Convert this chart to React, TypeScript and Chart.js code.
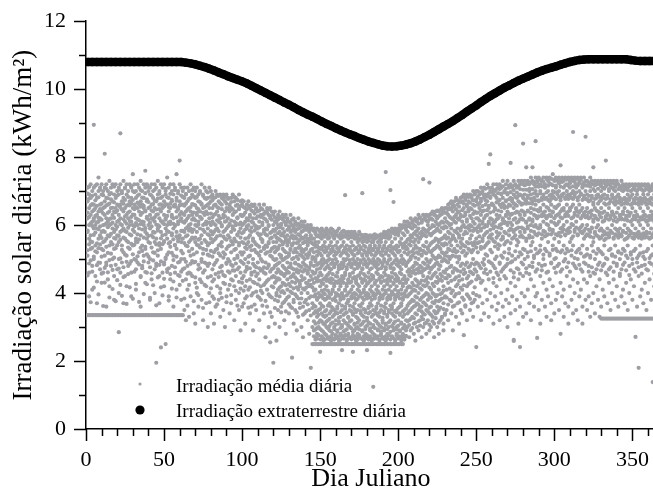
import { useEffect, useRef } from "react";
import { Chart, registerables } from "chart.js";

Chart.register(...registerables);

// Irradiação média diária: one row per Julian day (row 0 = day 1), values in kWh/m²
const dailyMean: number[][] = [
  // days 1-20
  [7.1,6.7,6.2,5.8,5.1,3.35],[6.9,6.5,6.0,5.6,4.6,3.9,3.35],[7.2,6.8,6.3,5.7,5.3,3.35],[7.0,6.4,6.1,5.5,4.8,4.1,3.35],
  [8.95,7.1,6.6,6.2,5.9,5.0,3.35],[6.9,6.5,6.0,5.4,4.5,3.35],[7.2,6.8,6.3,5.9,5.2,3.7,3.35],[7.4,7.0,6.4,6.1,5.6,4.9,3.35],
  [7.1,6.6,6.2,5.7,4.7,3.35],[7.2,6.9,6.4,5.8,5.3,4.3,3.35],[7.0,6.5,6.0,5.5,4.6,3.35],[8.1,7.1,6.7,6.3,5.8,5.1,3.35],
  [7.2,6.8,6.2,5.6,4.9,3.6,3.35],[7.0,6.6,6.1,5.7,4.4,3.35],[7.3,6.9,6.4,6.0,5.4,4.2,3.35],[7.1,6.5,6.2,5.5,4.8,3.35],
  [7.2,6.7,6.3,5.9,5.0,3.35],[6.9,6.4,5.8,5.3,4.5,3.8,3.35],[7.2,6.8,6.5,6.0,5.6,3.35],[7.0,6.6,6.1,5.7,4.7,3.35],
  // days 21-40
  [7.1,6.9,6.3,5.5,5.0,4.0,2.85,3.35],[8.7,7.2,6.6,6.2,5.8,4.6,3.35],[7.0,6.7,6.0,5.4,4.9,3.35],[7.3,6.8,6.4,5.9,5.2,3.7,3.35],
  [7.1,6.5,6.1,5.6,4.5,3.35],[7.2,6.9,6.3,5.8,5.1,4.2,3.35],[7.0,6.6,6.2,5.5,4.8,3.35],[7.2,6.7,6.4,6.0,5.3,3.35],
  [7.1,6.8,6.1,5.7,4.6,3.9,3.35],[7.5,7.0,6.5,6.0,5.4,3.35],[7.2,6.6,6.3,5.8,5.0,3.35],[7.0,6.8,6.2,5.6,4.7,4.1,3.35],
  [7.2,6.5,6.0,5.5,4.9,3.35],[7.1,6.9,6.4,5.9,5.2,3.35],[7.3,6.7,6.3,5.7,4.5,3.6,3.35],[7.0,6.6,6.1,5.4,4.8,3.35],
  [7.2,6.8,6.5,6.0,5.1,3.35],[7.6,7.1,6.4,5.8,5.3,4.3,3.35],[7.2,6.7,6.2,5.6,4.6,3.35],[7.0,6.5,6.0,5.5,4.9,3.35],
  // days 41-61
  [7.1,6.9,6.3,5.9,5.0,3.8,3.35],[7.2,6.6,6.2,5.7,4.4,3.35],[7.0,6.8,6.4,5.8,5.2,3.35],[7.2,6.5,6.1,5.5,4.7,4.0,3.35],
  [7.1,6.7,6.3,5.6,4.8,1.95,3.35],[7.3,6.9,6.0,5.9,5.1,3.35],[7.0,6.6,6.2,5.4,4.5,3.7,3.35],[7.2,6.8,6.4,5.8,5.3,2.4,3.35],
  [7.1,6.5,6.1,5.7,4.6,3.35],[7.2,6.7,6.3,5.5,4.9,4.2,3.35],[7.0,6.9,6.2,5.9,5.0,2.5,3.35],[7.4,6.6,6.0,5.6,4.7,3.35],
  [7.1,6.8,6.4,5.8,5.2,3.9,3.35],[7.2,6.5,6.1,5.5,4.4,3.35],[7.0,6.7,6.3,5.7,4.8,3.35],[7.2,6.9,6.2,5.9,5.1,3.6,3.35],
  [7.1,6.6,6.0,5.4,4.6,3.35],[7.5,6.8,6.4,5.8,5.3,4.1,3.35],[7.0,6.5,6.1,5.6,4.9,3.35],[7.9,7.2,6.7,6.3,5.7,4.5,3.35],
  [7.1,6.6,6.2,5.5,5.0,3.8,3.35],
  // days 62-80
  [7.0,6.6,6.1,5.6,4.7,3.35],[7.1,6.8,6.3,5.8,5.0,3.5],[6.9,6.4,5.9,5.4,4.4,3.2],[7.1,6.7,6.2,5.7,4.8,4.1],
  [7.0,6.5,6.0,5.5,4.6,3.3],[7.2,6.8,6.4,5.9,5.1,3.9],[6.9,6.3,5.8,5.3,4.5],[7.1,6.6,6.2,5.6,4.9,3.4],
  [7.0,6.8,6.0,5.5,4.3,3.1],[7.1,6.5,6.3,5.8,5.2,4.0],[6.9,6.7,6.1,5.4,4.7,3.6],[7.0,6.4,5.9,5.6,4.4],
  [7.2,6.6,6.2,5.7,5.0,3.8],[6.9,6.5,6.0,5.3,4.6,3.2],[7.1,6.8,6.3,5.8,4.9],[7.0,6.4,6.1,5.5,4.2,3.7],
  [6.8,6.6,5.9,5.4,4.8,3.0],[7.1,6.5,6.2,5.7,5.1,4.0],[7.0,6.7,6.0,5.6,4.5,3.4],
  // days 81-100
  [6.9,6.5,6.1,5.5,4.7,3.9],[6.8,6.3,5.8,5.2,4.4,3.1],[7.0,6.6,6.0,5.6,4.9,3.6],[6.9,6.4,5.9,5.3,4.2],
  [6.7,6.5,6.1,5.4,4.6,3.8],[6.9,6.2,5.7,5.1,4.0,3.3],[6.8,6.6,6.0,5.5,4.8],[6.9,6.3,5.8,5.2,4.3,3.5],
  [6.7,6.4,6.1,5.6,4.5,3.0],[6.9,6.5,5.9,5.3,4.9,3.9],[6.8,6.2,5.7,5.0,4.1],[6.6,6.4,6.0,5.4,4.6,3.4],
  [6.8,6.5,5.8,5.2,4.4,3.7],[6.9,6.3,5.9,5.5,4.8],[6.7,6.1,5.6,5.0,4.2,3.2],[6.8,6.4,6.0,5.3,4.5,3.8],
  [6.6,6.2,5.7,5.1,4.7],[6.9,6.5,5.8,5.4,4.0,3.5],[6.7,6.3,5.9,5.2,4.6,2.9],[6.6,6.0,5.5,4.9,4.3,3.6],
  // days 101-120
  [6.7,6.3,5.8,5.2,4.5,3.7],[6.5,6.1,5.6,5.0,4.2,3.1],[6.6,6.2,5.9,5.3,4.7,3.9],[6.7,6.0,5.5,4.9,4.1],
  [6.5,6.3,5.7,5.1,4.4,3.4],[6.6,6.1,5.8,5.4,4.6,3.6],[6.4,6.2,5.6,5.0,4.0,2.9],[6.6,6.0,5.5,4.8,4.3],
  [6.5,6.2,5.9,5.2,4.5,3.5],[6.4,5.9,5.4,4.9,3.9],[6.6,6.1,5.7,5.1,4.4,3.2],[6.5,6.3,5.6,5.0,4.2,3.8],
  [6.3,6.0,5.5,4.7,4.0],[6.6,6.2,5.8,5.3,4.6,3.4],[6.4,5.9,5.4,4.9,4.3,2.7],[6.5,6.1,5.7,5.2,4.1,3.6],
  [6.3,6.0,5.5,4.8,4.4,3.0],[6.5,6.2,5.6,5.1,3.9,2.55],[6.4,5.8,5.3,4.7,4.2,3.3],[6.3,6.0,5.5,5.0,4.5,1.95],
  // days 121-145
  [6.4,6.1,5.7,5.2,4.8,4.3,3.8,3.1],[6.2,5.9,5.5,5.0,4.6,4.0,2.6],[6.3,6.0,5.6,5.3,4.7,4.1,3.5],[6.4,5.8,5.4,4.9,4.4,3.9,3.0],
  [6.2,6.0,5.7,5.1,4.6,4.2,3.6],[6.3,5.9,5.3,4.8,4.3,3.7],[6.1,5.8,5.5,5.0,4.5,4.0,3.2],[6.3,6.0,5.6,5.2,4.7,3.8,2.8],
  [6.2,5.7,5.4,4.9,4.4,4.1],[6.1,5.9,5.5,5.1,4.6,3.9,3.4],[6.3,5.8,5.3,4.8,4.2,3.6],[6.0,5.7,5.4,5.0,4.5,4.0,2.1],
  [6.2,5.9,5.6,5.2,4.7,3.8,3.1],[6.1,5.8,5.3,4.9,4.3,3.5],[6.0,5.6,5.2,4.7,4.4,3.9,2.9],[6.2,5.9,5.5,5.0,4.6,4.1,3.3],
  [6.0,5.7,5.4,4.8,4.2,3.7],[6.1,5.8,5.3,5.1,4.5,4.0,3.0],[6.0,5.6,5.2,4.9,4.4,3.6,2.7],[6.1,5.9,5.5,5.0,4.7,4.1,3.4],
  [5.9,5.7,5.3,4.8,4.3,3.8],[6.0,5.6,5.4,5.1,4.6,4.0,3.2],[5.9,5.8,5.2,4.7,4.2,3.5,2.8],[6.0,5.7,5.5,4.9,4.5,3.9,1.8],
  [5.9,5.6,5.3,5.0,4.4,3.7,3.0,2.5],
  // days 146-175
  [5.9,5.6,5.2,4.8,4.3,3.9,3.4,2.9,2.5],[5.8,5.5,5.0,4.6,4.1,3.6,3.1,2.7,2.5],[5.9,5.4,5.1,4.7,4.4,3.8,3.3,2.8,2.5],
  [5.7,5.5,5.2,4.5,4.0,3.5,3.0,2.5],[5.8,5.3,4.9,4.6,4.2,3.7,3.2,2.27,2.5],[5.9,5.6,5.1,4.8,4.3,3.9,3.4,2.9,2.5],
  [5.7,5.4,5.0,4.4,4.0,3.6,3.1,2.6,2.5],[5.8,5.5,5.2,4.7,4.1,3.8,3.3,2.8,2.5],[5.9,5.3,4.9,4.5,4.2,3.5,3.0,2.5],
  [5.7,5.6,5.1,4.8,4.4,3.9,3.2,2.7,2.5],[5.8,5.4,5.0,4.6,4.0,3.7,3.4,2.9,2.5],[5.9,5.5,5.2,4.7,4.3,3.6,3.1,2.6,2.5],
  [5.7,5.3,4.9,4.4,4.1,3.8,3.3,2.8,2.5],[5.8,5.6,5.1,4.8,4.2,3.5,3.0,2.5],[5.8,5.4,5.0,4.5,4.0,3.9,3.2,2.7,2.5],
  [5.7,5.5,5.2,4.6,4.3,3.6,3.4,2.9,2.5],[5.9,5.3,4.8,4.7,4.1,3.7,3.1,2.6,2.5],[5.7,5.6,5.1,4.4,4.2,3.8,3.3,2.8,2.5],
  [5.8,5.4,4.9,4.5,4.0,3.5,3.0,2.32,2.5],[5.7,5.5,5.0,4.8,4.3,3.9,3.2,2.7,2.5],[6.88,5.8,5.3,5.2,4.6,4.1,3.6,3.4,2.9,2.5],
  [5.7,5.4,5.0,4.7,4.2,3.7,3.1,2.6,2.5],[5.8,5.6,5.1,4.4,4.0,3.8,3.3,2.8,2.5],[5.7,5.3,4.9,4.5,4.3,3.5,3.0,2.5],
  [5.8,5.5,5.2,4.8,4.1,3.9,3.2,2.7,2.5],[5.7,5.4,5.0,4.6,4.2,3.6,3.4,2.27,2.5],[5.8,5.6,5.1,4.7,4.0,3.7,3.1,2.9,2.5],
  [5.6,5.3,4.9,4.4,4.3,3.8,3.3,2.6,2.5],[5.7,5.5,5.0,4.5,4.1,3.5,3.0,2.8,2.5],[5.8,5.4,5.2,4.8,4.2,3.9,3.2,2.7,2.5],
  // days 176-205
  [5.6,5.3,4.9,4.6,4.0,3.6,3.4,2.5],[6.94,5.7,5.5,5.1,4.7,4.3,3.7,3.1,2.9,2.5],[5.7,5.4,5.0,4.4,4.1,3.8,3.3,2.6,2.5],
  [5.6,5.2,4.9,4.5,4.2,3.5,3.0,2.8,2.5],[5.7,5.5,5.1,4.8,4.0,3.9,3.2,2.32,2.5],[5.6,5.3,5.0,4.6,4.3,3.6,3.4,2.7,2.5],
  [5.7,5.4,5.2,4.7,4.1,3.7,3.1,2.9,2.5],[5.5,5.3,4.9,4.4,4.2,3.8,3.3,2.6,2.5],[5.7,5.5,5.0,4.5,4.0,3.5,3.0,2.8,1.24,2.5],
  [5.6,5.4,5.1,4.8,4.3,3.9,3.2,2.7,2.5],[5.7,5.2,4.9,4.6,4.1,3.6,3.4,2.5],[5.5,5.3,5.0,4.7,4.2,3.7,3.1,2.9,2.5],
  [5.7,5.4,5.2,4.4,4.0,3.8,3.3,2.6,2.5],[5.6,5.5,4.9,4.5,4.3,3.5,3.0,2.8,2.5],[5.7,5.3,5.1,4.8,4.1,3.9,3.2,2.7,2.5],
  [5.8,5.4,5.0,4.6,4.2,3.6,3.4,2.9,2.5],[7.56,5.7,5.5,5.2,4.7,4.0,3.7,3.1,2.6,2.5],[5.8,5.3,4.9,4.4,4.3,3.8,3.3,2.8,2.5],
  [5.7,5.6,5.1,4.5,4.1,3.5,3.0,2.5],[7.03,5.8,5.4,5.0,4.8,4.2,3.9,3.2,2.24,2.5],[5.9,5.5,5.2,4.6,4.0,3.6,3.4,2.7,2.5],
  [6.68,5.8,5.3,4.9,4.7,4.3,3.7,3.1,2.9,2.5],[5.9,5.6,5.1,4.4,4.1,3.8,3.3,2.6,2.5],[5.8,5.4,5.0,4.5,4.2,3.5,3.0,2.8,2.5],
  [5.9,5.7,5.2,4.8,4.0,3.9,3.2,2.7,2.5],[6.0,5.5,4.9,4.6,4.3,3.6,3.4,2.9,2.5],[5.9,5.6,5.1,4.7,4.1,3.7,3.1,2.6,2.5],
  [6.0,5.4,5.0,4.4,4.2,3.8,3.3,2.8,2.5],[6.1,5.7,5.2,4.5,4.0,3.5,3.0,2.7],[6.0,5.5,5.3,4.8,4.3,3.9,3.2,2.9],
  // days 206-230
  [6.1,5.8,5.3,4.9,4.4,3.9,3.4,3.0],[6.0,5.6,5.2,4.7,4.2,3.7,3.2,2.7],[6.2,5.7,5.4,5.0,4.5,4.0,3.5,2.9],
  [6.1,5.9,5.1,4.6,4.3,3.8,3.3],[6.0,5.5,5.3,4.8,4.1,3.6,3.1,2.8],[6.2,5.8,5.4,4.9,4.4,3.9,3.4,2.6],
  [6.1,5.7,5.2,4.7,4.2,3.7,3.0],[6.3,5.9,5.5,5.0,4.6,4.0,3.5,2.9],[6.2,5.6,5.3,4.8,4.3,3.8,3.2],
  [6.1,5.8,5.1,4.6,4.1,3.6,3.3,2.7],[7.35,6.3,5.9,5.4,4.9,4.5,3.9,3.4,3.0],[6.2,5.7,5.2,4.7,4.2,3.7,3.1],
  [6.3,5.8,5.5,5.0,4.4,4.0,3.5,2.8],[6.1,6.0,5.3,4.8,4.3,3.8,3.2],[7.25,6.3,5.9,5.4,4.9,4.6,3.9,3.4,2.9],
  [6.2,5.7,5.2,4.7,4.1,3.6,3.0],[6.4,6.0,5.5,5.1,4.5,4.0,3.3],[6.3,5.8,5.3,4.8,4.2,3.7,3.1,2.7],
  [6.4,6.1,5.6,5.0,4.6,3.9,3.4],[6.2,5.9,5.4,4.9,4.3,3.6,3.0],[6.4,6.0,5.5,5.1,4.7,4.1,3.5,2.8],
  [6.3,5.8,5.3,4.8,4.4,3.8,3.2],[6.5,6.1,5.6,5.2,4.5,4.0,3.3],[6.4,5.9,5.4,5.0,4.2,3.7,3.1,2.9],
  [6.5,6.2,5.7,5.1,4.6,3.9,3.4],
  // days 231-250
  [6.5,6.1,5.6,5.2,4.7,4.1,3.5],[6.6,6.3,5.8,5.3,4.9,4.3,3.2],[6.5,6.0,5.5,5.0,4.5,3.8],[6.7,6.2,5.9,5.4,4.8,4.0,3.4],
  [6.6,6.4,5.7,5.1,4.6,3.6,2.9],[6.7,6.1,5.6,5.3,4.4,3.9],[6.8,6.3,5.8,5.2,4.7,4.2,3.3],[6.6,6.2,5.9,5.4,4.9,3.7],
  [6.7,6.4,5.7,5.0,4.5,4.0,3.1],[6.8,6.3,5.9,5.5,4.8,3.5],[6.7,6.1,5.6,5.2,4.4,4.1,3.4],[6.9,6.5,6.0,5.4,4.7,3.8,2.76],
  [6.8,6.3,5.8,5.1,4.6,3.6],[6.9,6.6,6.1,5.5,4.9,4.2,3.2],[6.7,6.4,5.9,5.3,4.5,3.9],[6.9,6.5,6.0,5.6,4.8,4.3,3.5],
  [6.8,6.2,5.7,5.2,4.6,3.7],[7.0,6.6,6.1,5.4,5.0,4.0,3.3],[6.9,6.4,5.9,5.5,4.7,3.8],[7.0,6.7,6.2,5.6,4.9,4.4,2.41],
  // days 251-280
  [7.0,6.6,6.2,5.8,5.2,4.5,3.6],[6.9,6.5,6.0,5.5,4.8,3.9],[7.1,6.7,6.3,5.9,5.3,4.3,3.2],[7.0,6.4,6.1,5.6,4.9,3.7],
  [7.1,6.8,6.2,5.7,5.0,4.6,3.4],[6.9,6.6,6.0,5.4,4.7,4.1],[7.2,6.7,6.3,5.8,5.1,3.8],[7.8,7.1,6.5,6.1,5.5,4.4,3.3],
  [8.08,7.0,6.8,6.2,5.7,4.9,4.0],[7.1,6.6,6.0,5.6,5.2,3.6],[7.2,6.9,6.4,5.9,4.8,4.3,3.1],[7.0,6.5,6.1,5.5,5.0,3.9],
  [7.2,6.8,6.3,5.8,4.6,4.2,3.5],[7.1,6.7,6.2,5.7,5.3,3.7],[7.2,6.6,6.0,5.4,4.9,4.4,3.2],[7.1,6.9,6.4,5.9,5.1,4.0],
  [7.3,6.8,6.2,5.6,4.7,3.6],[7.0,6.5,6.1,5.8,5.2,4.5,3.3],[7.2,6.7,6.3,5.5,4.8,3.8],[7.3,6.9,6.4,6.0,5.0,4.1,3.0],
  [7.1,6.6,6.2,5.7,5.3,3.7],[7.83,7.2,6.8,6.3,5.9,4.9,4.3,3.4],[7.1,6.7,6.0,5.6,5.1,3.9],[7.3,6.9,6.5,5.8,4.6,2.62,2.59],
  [8.94,7.2,6.6,6.2,5.7,5.0,4.2,3.5],[7.1,6.8,6.4,5.9,5.4,3.8],[7.3,6.7,6.1,5.5,4.7,4.4,3.1],[7.2,6.9,6.3,5.8,5.2,3.6,2.41],
  [7.3,6.6,6.2,5.7,4.9,4.0],[8.4,7.2,6.8,6.4,5.9,5.3,4.5,3.3],
  // days 281-320
  [7.3,6.9,6.3,5.8,5.0,3.9],[7.7,7.2,6.7,6.1,5.6,4.6,3.4],[7.3,6.8,6.4,5.9,5.2,4.1],[7.2,7.0,6.2,5.7,4.8,3.7],
  [7.4,6.9,6.5,6.0,5.4,4.4,3.2],[7.7,7.3,6.7,6.1,5.5,4.9],[7.2,6.8,6.3,5.8,5.1,4.2,3.6],[8.47,7.4,7.0,6.6,6.0,5.3,3.9],
  [7.3,6.9,6.2,5.7,4.7,4.0,2.68],[7.4,6.7,6.4,5.9,5.2,3.5],[7.2,7.0,6.5,6.0,5.4,4.5,3.1],[7.3,6.8,6.3,5.6,4.8,3.8],
  [7.4,6.9,6.6,6.1,5.0,4.3],[7.2,7.1,6.4,5.8,5.3,3.6],[7.4,6.8,6.2,5.7,4.6,4.1,3.3],[7.3,7.0,6.5,6.0,5.5,3.9],
  [7.4,6.7,6.3,5.9,5.1,4.4],[7.2,6.9,6.6,6.1,4.9,3.7,3.2],[7.5,7.0,6.4,5.8,5.4,4.2],[7.3,6.8,6.2,5.6,5.0,3.4],
  [7.4,7.1,6.5,6.0,5.3,4.6,3.8],[7.3,6.9,6.3,5.7,4.8,4.0],[7.4,7.0,6.6,6.1,5.5,3.5],[7.76,7.3,6.8,6.4,5.9,5.2,4.3,2.8],
  [7.4,6.9,6.2,5.8,4.7,3.9],[7.3,7.1,6.5,6.0,5.4,4.1,3.3],[7.4,6.8,6.3,5.7,5.0,3.7],[7.2,7.0,6.6,6.1,5.3,4.5],
  [7.4,6.9,6.4,5.9,4.9,3.6,3.1],[7.3,7.1,6.5,5.8,5.5,4.2],[7.4,6.8,6.2,5.6,5.1,3.8],[8.74,7.3,7.0,6.6,6.0,5.4,4.4,3.4],
  [7.4,6.9,6.3,5.8,4.8,4.0],[7.2,7.1,6.5,6.1,5.2,3.5],[7.4,6.8,6.4,5.7,5.0,4.3,3.2],[7.3,7.0,6.6,5.9,5.3,3.9],
  [7.4,6.9,6.2,5.8,4.7,4.1],[7.2,7.1,6.5,6.0,5.4,3.6,3.1],[7.4,6.8,6.3,5.6,4.9,4.4],[8.6,7.3,7.0,6.4,5.9,5.1,3.8],
  // days 321-345
  [7.3,6.9,6.5,6.0,5.3,4.3,3.5],[7.2,6.7,6.2,5.7,4.8,3.9],[7.4,7.0,6.4,5.8,5.1,4.5,3.3],[7.3,6.8,6.3,5.9,5.4,3.7],
  [7.7,7.2,6.6,6.1,5.5,4.6,4.0],[7.3,7.0,6.5,5.8,5.0,3.4],[7.2,6.8,6.2,5.7,4.7,4.2],[7.3,6.9,6.4,6.0,5.3,3.8],
  [7.2,6.7,6.3,5.6,4.9,4.4,3.3],[7.3,7.0,6.5,5.9,5.2,3.6,3.25],[7.1,6.8,6.1,5.7,4.8,4.1,3.25],[7.3,6.9,6.4,5.8,5.4,3.9,3.25],
  [7.9,7.2,6.6,6.2,5.6,4.6,3.25],[7.3,6.8,6.3,5.9,5.0,3.7,3.25],[7.2,7.0,6.5,5.7,4.7,4.3,3.25],[7.3,6.7,6.2,5.8,5.3,3.5,3.25],
  [7.1,6.9,6.4,6.0,5.1,4.0,3.25],[7.3,6.8,6.3,5.6,4.9,4.4,3.25],[7.2,7.0,6.6,5.9,5.4,3.8,3.25],[7.3,6.7,6.1,5.7,4.8,4.2,3.25],
  [7.2,6.9,6.5,5.8,5.2,3.6,3.25],[7.1,6.8,6.3,5.9,5.0,4.5,3.25],[7.3,6.6,6.2,5.7,4.7,3.9,3.25],[7.2,7.0,6.4,5.8,5.3,4.1,3.25],
  [7.1,6.8,6.5,6.0,4.9,3.7,3.25],
  // days 346-365
  [7.2,6.7,6.2,5.6,5.1,4.3,3.25],[7.1,6.9,6.4,5.9,5.4,3.5,3.25],[7.2,6.8,6.3,5.7,4.8,4.0,3.25],[7.0,6.6,6.1,5.8,5.2,4.4,3.25],
  [7.2,6.9,6.5,6.0,5.0,3.8,3.25],[7.1,6.7,6.2,5.6,4.7,4.2,3.25],[7.2,6.8,6.4,5.9,5.3,2.71,3.25],[7.0,6.9,6.3,5.7,4.9,3.6,3.25],
  [7.2,6.6,6.1,5.8,5.1,4.5,1.8,3.25],[7.1,6.8,6.5,6.0,5.4,3.9,3.25],[7.2,6.7,6.2,5.6,4.8,4.1,3.25],[7.0,6.9,6.4,5.9,5.2,3.7,3.25],
  [7.2,6.8,6.3,5.7,5.0,4.3,3.25],[7.1,6.6,6.1,5.8,4.7,3.5,3.25],[7.2,6.9,6.5,6.0,5.3,4.0,3.25],[7.0,6.7,6.2,5.6,4.9,4.4,3.25],
  [7.1,6.8,6.4,5.9,5.1,3.8,3.25],[7.2,6.6,6.3,5.7,5.4,1.38,3.25],[7.0,6.9,6.1,5.8,4.8,4.2,3.25],[7.1,6.7,6.4,5.9,5.2,3.6,3.25],
];

// More observations of the same daily mean series (row 0 = day 1)
const dailyMeanMore: number[][] = [
  // days 1-30
  [6.93,6.37,5.84,5.26,4.52],[7.13,6.78,6.24,5.43,4.87],[6.58,6.05,5.52,4.96,3.73],[6.86,6.62,5.97,5.33,4.63],[6.44,6.13,5.71,5.07,4.16],
  [7.16,6.73,6.27,5.78,5.23],[6.57,6.08,5.46,4.82,4.34],[6.82,6.21,5.88,5.32,3.96],[7.04,6.47,5.96,5.43,4.89],[6.63,6.16,5.62,5.07,4.57],
  [6.88,6.34,5.83,5.26,3.62],[6.53,6.01,5.53,4.74,4.31],[7.07,6.58,6.05,5.36,4.82],[6.79,6.36,5.94,5.18,4.61],[6.63,6.18,5.67,4.97,3.87],
  [6.94,6.76,6.03,5.74,5.16],[6.51,6.07,5.43,4.68,4.12],[7.13,6.67,6.21,5.62,5.04],[6.38,5.87,5.32,4.83,3.76],[6.87,6.43,5.95,5.41,4.38],
  [7.04,6.58,6.13,5.68,4.72],[6.52,6.03,5.57,5.02,4.24],[6.94,6.46,5.84,5.27,3.92],[6.63,6.17,5.63,4.76,4.47],[7.08,6.74,6.26,5.83,5.13],
  [6.57,6.04,5.54,4.92,3.68],[6.83,6.37,5.92,5.34,4.56],[6.58,6.12,5.73,4.86,4.17],[7.14,6.63,6.24,5.45,4.94],[6.74,6.31,5.86,5.14,3.83],
  // days 31-61
  [6.97,6.47,5.96,5.42,4.63],[6.53,6.06,5.52,4.97,4.27],[6.86,6.66,6.17,5.73,5.08],[6.61,6.14,5.58,4.84,3.74],[7.03,6.54,6.03,5.33,4.47],
  [6.81,6.36,5.87,5.24,4.73],[6.57,6.09,5.63,4.93,3.97],[6.94,6.43,5.91,5.36,4.62],[6.76,6.24,5.74,5.14,4.26],[7.12,6.68,6.16,5.68,5.07],
  [6.53,6.07,5.47,4.76,3.86],[6.87,6.43,5.96,5.34,4.58],[6.62,6.16,5.64,4.96,4.23],[7.04,6.72,6.23,5.78,5.18],[6.46,6.01,5.43,4.87,3.64],
  [6.78,6.32,5.84,5.26,4.46],[6.93,6.47,5.96,5.47,4.83],[6.61,6.12,5.61,4.93,4.17],[6.84,6.58,6.07,5.44,3.93],[6.55,6.03,5.53,4.84,4.42],
  [7.07,6.62,6.16,5.72,5.04],[6.82,6.27,5.82,5.13,4.62],[6.53,6.07,5.46,4.73,3.78],[6.92,6.63,6.03,5.36,4.56],[6.74,6.24,5.76,5.18,4.13],
  [6.56,6.04,5.58,4.97,4.34],[7.03,6.54,5.97,5.42,4.76],[6.72,6.23,5.67,5.07,3.87],[6.93,6.47,6.03,5.52,4.53],[6.58,6.12,5.62,4.92,4.24],
  [6.87,6.38,5.83,5.24,4.63],
  // days 62-80
  [6.83,6.34,5.83,5.17,4.36],[6.57,6.07,5.47,4.73,3.84],[6.92,6.63,6.13,5.67,4.92],[6.46,5.94,5.38,4.57,3.63],[6.77,6.27,5.84,5.23,4.24],
  [6.53,6.03,5.56,4.86,4.57],[7.03,6.62,6.16,5.63,4.94],[6.84,6.37,5.87,5.14,3.76],[6.58,6.14,5.63,4.92,4.46],[6.83,6.36,5.97,5.42,4.16],
  [6.47,6.02,5.57,4.83,3.94],[6.96,6.68,6.24,5.34,4.73],[6.63,6.18,5.47,4.92,4.32],[6.86,6.36,5.86,5.16,3.56],[6.53,6.04,5.56,4.67,4.24],
  [6.77,6.57,6.02,5.27,4.87],[6.96,6.33,5.73,5.13,4.46],[6.64,6.07,5.46,4.87,3.73],[6.83,6.34,5.82,5.24,4.14],
  // days 81-100
  [6.73,6.23,5.73,5.07,4.34],[6.58,6.04,5.56,4.83,3.83],[6.82,6.33,5.86,5.27,4.56],[6.53,6.14,5.67,4.97,3.67],[6.86,6.27,5.82,5.17,4.47],
  [6.64,6.07,5.43,4.76,4.13],[6.47,5.96,5.37,4.63,3.86],[6.76,6.22,5.66,5.04,4.53],[6.83,6.26,5.84,5.14,4.27],[6.63,6.12,5.57,4.86,3.73],
  [6.77,6.46,5.96,5.37,4.64],[6.54,6.04,5.63,4.93,4.24],[6.68,6.13,5.53,4.83,3.94],[6.46,5.96,5.43,4.67,4.37],[6.83,6.37,5.86,5.27,4.66],
  [6.57,6.06,5.52,4.87,4.07],[6.74,6.23,5.73,5.04,3.63],[6.47,6.02,5.47,4.76,4.33],[6.56,6.07,5.63,4.94,4.13],[6.73,6.26,5.76,5.13,4.43],
  // days 101-120
  [6.53,6.04,5.47,4.86,4.07],[6.37,5.87,5.34,4.63,3.84],[6.46,5.96,5.43,4.77,4.36],[6.56,6.14,5.63,5.07,3.57],[6.24,5.84,5.36,4.73,4.17],
  [6.43,5.93,5.26,4.54,3.93],[6.56,6.07,5.54,4.86,4.33],[6.34,5.84,5.27,4.63,3.66],[6.47,5.96,5.43,4.76,4.04],[6.26,5.76,5.17,4.57,4.26],
  [6.43,5.94,5.36,4.73,3.86],[6.24,5.73,5.23,4.66,4.07],[6.46,6.07,5.56,4.93,3.63],[6.33,5.86,5.34,4.76,4.24],[6.17,5.73,5.16,4.57,3.77],
  [6.36,5.87,5.36,4.73,4.36],[6.46,5.97,5.46,4.84,3.96],[6.27,5.77,5.23,4.63,3.43],[6.16,5.63,5.07,4.46,3.87],[6.36,5.86,5.34,4.73,4.17],
  // days 121-145
  [6.23,5.83,5.36,4.97,4.47,3.56],[6.07,5.63,5.26,4.83,4.36,3.93],[6.16,5.76,5.33,4.87,4.43,3.76],[6.24,5.93,5.57,5.13,4.63,4.16],
  [6.04,5.53,5.04,4.57,4.03,3.43],[6.17,5.74,5.43,4.97,4.56,4.06],[6.23,5.67,5.24,4.74,4.27,3.74],[6.06,5.53,5.04,4.57,4.23,3.46],
  [6.13,5.86,5.47,5.06,4.63,3.87],[5.96,5.56,5.17,4.76,4.27,3.67],[6.07,5.63,5.27,4.87,4.46,4.04],[6.16,5.84,5.44,4.73,4.33,3.56],
  [5.94,5.47,5.03,4.56,4.14,3.73],[6.03,5.67,5.23,4.87,4.46,3.96],[5.87,5.47,5.07,4.63,4.17,3.43],[6.04,5.73,5.33,4.83,4.36,3.84],
  [5.92,5.56,5.13,4.66,4.27,3.56],[5.96,5.63,5.24,4.77,4.37,3.84],[5.83,5.47,5.06,4.63,4.13,3.36],[5.97,5.64,5.27,4.84,4.43,3.73],
  [5.86,5.53,5.13,4.67,4.16,3.46],[5.93,5.46,5.04,4.57,4.27,3.67],[5.84,5.56,5.14,4.76,4.37,3.86],[5.92,5.63,5.27,4.83,4.24,3.34],
  [5.86,5.46,5.06,4.63,4.17,3.56],
  // days 146-175
  [5.83,5.43,5.04,4.57,4.07,3.63,3.17,2.73],[5.74,5.36,4.93,4.44,3.96,3.47,2.93,2.63],[5.67,5.23,4.83,4.34,3.86,3.43,2.97,2.66],
  [5.86,5.33,4.87,4.37,3.87,3.36,3.13,2.76],[5.64,5.16,4.73,4.36,3.93,3.53,2.94,2.64],[5.73,5.34,4.97,4.53,4.07,3.63,3.17,2.73],
  [5.83,5.26,4.86,4.27,3.84,3.33,2.86,2.67],[5.66,5.37,4.94,4.43,3.97,3.46,3.07,2.63],[5.74,5.23,4.76,4.36,3.83,3.34,3.16,2.76],
  [5.84,5.33,4.96,4.54,4.07,3.63,2.96,2.66],[5.63,5.16,4.73,4.33,3.86,3.24,3.03,2.64],[5.76,5.27,4.86,4.43,3.97,3.47,2.87,2.73],
  [5.86,5.37,4.97,4.56,4.06,3.56,3.13,2.66],[5.64,5.23,4.76,4.27,3.84,3.36,2.94,2.63],[5.73,5.14,4.86,4.34,3.77,3.43,3.07,2.76],
  [5.83,5.32,4.92,4.48,3.96,3.54,2.86,2.67],[5.66,5.23,4.77,4.36,3.93,3.27,3.16,2.73],[5.74,5.36,4.83,4.27,3.86,3.44,2.97,2.63],
  [5.63,5.17,4.73,4.36,3.97,3.63,3.06,2.74],[5.83,5.24,4.86,4.43,3.84,3.36,2.87,2.66],[5.66,5.33,4.96,4.53,4.07,3.54,3.13,2.76],
  [5.74,5.16,4.76,4.27,3.93,3.43,2.93,2.63],[5.63,5.27,4.84,4.36,3.76,3.27,3.04,2.73],[5.76,5.36,4.97,4.56,4.03,3.63,3.16,2.67],
  [5.64,5.23,4.76,4.33,3.84,3.46,2.96,2.64],[5.73,5.14,4.86,4.43,3.97,3.36,2.86,2.76],[5.63,5.27,4.93,4.47,3.86,3.53,3.07,2.66],
  [5.73,5.34,4.84,4.36,3.96,3.44,2.97,2.73],[5.64,5.17,4.74,4.26,3.83,3.26,3.13,2.63],[5.56,5.26,4.87,4.53,4.06,3.64,2.93,2.76],
  // days 176-205
  [5.72,5.33,4.96,4.43,3.97,3.47,3.06,2.67],[5.63,5.14,4.73,4.34,3.86,3.34,2.87,2.64],[5.53,5.26,4.84,4.56,4.03,3.53,3.16,2.73],
  [5.71,5.36,4.93,4.37,3.93,3.43,2.94,2.66],[5.62,5.16,4.77,4.27,3.84,3.27,3.04,2.76],[5.54,5.24,4.86,4.46,3.96,3.56,3.13,2.63],
  [5.66,5.34,4.94,4.36,3.87,3.44,2.96,2.73],[5.62,5.13,4.73,4.53,4.04,3.63,2.86,2.67],[5.53,5.26,4.86,4.43,3.93,3.36,3.06,2.64],
  [5.73,5.34,4.93,4.27,3.84,3.47,2.97,2.76],[5.63,5.16,4.76,4.36,3.97,3.54,3.16,2.66],[5.67,5.27,4.84,4.56,4.06,3.34,2.93,2.73],
  [5.56,5.36,4.96,4.44,3.86,3.43,3.04,2.63],[5.73,5.13,4.73,4.33,3.93,3.63,2.87,2.76],[5.64,5.24,4.87,4.47,3.84,3.27,3.13,2.67],
  [5.76,5.34,4.94,4.36,3.97,3.46,2.96,2.64],[5.63,5.16,4.76,4.53,4.07,3.56,3.06,2.73],[5.72,5.27,4.86,4.26,3.86,3.36,2.94,2.66],
  [5.84,5.36,4.97,4.43,3.93,3.44,3.14,2.76],[5.66,5.24,4.74,4.36,3.83,3.63,2.86,2.63],[5.77,5.34,4.86,4.47,4.04,3.53,3.03,2.73],
  [5.84,5.16,4.73,4.27,3.96,3.34,2.97,2.67],[5.73,5.36,4.96,4.56,3.87,3.47,3.16,2.64],[5.86,5.27,4.84,4.36,3.94,3.43,2.93,2.76],
  [5.76,5.37,4.93,4.43,4.06,3.56,3.04,2.66],[5.83,5.24,4.77,4.34,3.84,3.36,2.87,2.73],[5.94,5.44,4.97,4.56,3.97,3.63,3.13,2.67],
  [5.76,5.33,4.86,4.27,3.86,3.46,2.96,2.76],[5.93,5.46,4.94,4.43,3.96,3.37,3.06,2.63],[5.86,5.36,4.83,4.36,4.07,3.54,2.97,2.74],
  // days 206-230
  [5.96,5.57,5.14,4.63,4.16,3.63,3.17],[6.04,5.43,4.96,4.53,3.96,3.46,3.06],[5.94,5.53,5.06,4.63,4.17,3.74,3.24],
  [6.06,5.64,5.23,4.76,4.06,3.56,2.97],[6.13,5.74,5.17,4.67,4.23,3.77,3.26],[5.96,5.57,5.04,4.57,4.07,3.63,3.13],
  [6.17,5.83,5.33,4.86,4.36,3.87,3.37],[6.04,5.63,5.16,4.73,4.27,3.66,3.17],[6.23,5.76,5.26,4.64,4.14,3.57,3.04],
  [6.07,5.67,5.13,4.76,4.37,3.86,3.46],[6.16,5.74,5.24,4.67,4.23,3.73,3.23],[6.27,5.86,5.37,4.86,4.36,3.94,3.37],
  [6.13,5.67,5.17,4.73,4.23,3.64,3.13],[6.26,5.84,5.33,4.93,4.47,3.97,3.46],[6.17,5.74,5.23,4.74,4.16,3.57,3.07],
  [6.33,5.93,5.46,4.97,4.43,3.86,3.36],[6.16,5.76,5.26,4.76,4.27,3.73,3.17],[6.36,5.97,5.53,5.04,4.56,3.96,3.47],
  [6.27,5.83,5.33,4.86,4.33,3.77,3.26],[6.43,6.03,5.57,5.04,4.47,3.94,3.43],[6.26,5.84,5.36,4.83,4.37,3.76,3.13],
  [6.44,6.06,5.57,5.06,4.56,3.97,3.57],[6.33,5.93,5.44,4.93,4.36,3.84,3.27],[6.46,6.07,5.63,5.17,4.63,4.07,3.53],
  [6.36,5.96,5.46,4.97,4.44,3.87,3.36],
  // days 231-250
  [6.37,5.93,5.43,4.93,4.43,3.87],[6.46,6.06,5.63,5.07,4.53,3.66],[6.63,6.24,5.76,5.27,4.76,4.13],[6.46,6.03,5.57,5.07,4.36,3.76],
  [6.53,6.17,5.66,5.23,4.63,4.07],[6.56,6.24,5.83,5.26,4.73,3.63],[6.47,6.07,5.53,5.07,4.46,3.97],[6.73,6.37,5.76,5.23,4.66,4.26],
  [6.54,6.16,5.63,5.07,4.36,3.73],[6.67,6.24,5.84,5.33,4.63,4.16],[6.83,6.44,5.96,5.43,4.87,3.87],[6.63,6.26,5.73,5.24,4.56,4.23],
  [6.74,6.37,5.93,5.37,4.83,3.64],[6.56,6.17,5.76,5.17,4.43,3.96],[6.83,6.46,5.97,5.46,4.76,4.27],[6.66,6.27,5.84,5.26,4.63,3.83],
  [6.86,6.47,5.96,5.47,4.87,4.34],[6.73,6.33,5.83,5.27,4.56,3.73],[6.93,6.57,6.04,5.43,4.84,4.17],[6.76,6.36,5.86,5.34,4.63,3.94],
  // days 251-280
  [6.83,6.37,5.94,5.47,4.87],[6.96,6.63,6.13,5.67,4.43],[6.77,6.43,5.84,5.36,4.73],[6.93,6.56,6.04,5.53,4.36],[6.86,6.43,5.93,5.34,4.83],
  [7.07,6.73,6.27,5.76,5.14],[6.84,6.44,5.97,5.46,4.56],[6.93,6.57,6.06,5.63,4.93],[6.83,6.37,5.86,5.27,4.63],[6.96,6.63,6.17,5.73,4.87],
  [7.03,6.58,6.07,5.53,4.44],[6.87,6.47,5.96,5.37,4.73],[7.06,6.67,6.17,5.63,5.07],[6.94,6.43,5.93,5.43,4.53],[7.06,6.74,6.27,5.76,4.86],
  [6.93,6.53,6.03,5.57,4.63],[7.14,6.63,6.14,5.66,5.04],[6.96,6.57,6.06,5.43,4.76],[7.07,6.73,6.27,5.76,4.43],[6.94,6.53,6.07,5.53,4.86],
  [7.16,6.76,6.33,5.84,5.17],[6.97,6.57,6.07,5.47,4.67],[7.14,6.77,6.33,5.86,4.93],[7.03,6.64,6.16,5.63,4.46],[7.17,6.83,6.36,5.87,5.23],
  [6.96,6.57,6.07,5.57,4.73],[7.14,6.86,6.37,5.93,5.07],[7.06,6.66,6.17,5.66,4.57],[7.23,6.87,6.43,5.93,5.14],[7.04,6.63,6.16,5.64,4.84],
  // days 281-320
  [7.17,6.76,6.36,5.87,5.27],[7.04,6.63,6.07,5.53,4.73],[7.23,6.87,6.43,5.96,5.07],[7.07,6.64,6.16,5.63,4.56],[7.26,6.77,6.36,5.83,5.23],
  [7.06,6.63,6.16,5.64,4.77],[7.27,6.93,6.46,5.96,5.03],[7.13,6.73,6.27,5.73,4.63],[7.24,6.86,6.44,5.93,5.17],[7.13,6.73,6.26,5.76,4.86],
  [7.33,6.93,6.43,5.93,5.26],[7.14,6.74,6.26,5.73,4.67],[7.27,6.83,6.36,5.83,5.13],[7.13,6.77,6.27,5.67,4.83],[7.36,6.96,6.53,6.03,5.23],
  [7.16,6.74,6.27,5.73,4.63],[7.23,6.87,6.43,5.86,5.16],[7.36,6.77,6.26,5.73,4.87],[7.17,6.86,6.37,5.86,5.27],[7.34,6.97,6.53,6.06,4.74],
  [7.16,6.76,6.27,5.73,5.03],[7.36,6.97,6.56,6.03,5.23],[7.23,6.83,6.33,5.77,4.86],[7.13,6.73,6.23,5.67,4.63],[7.27,6.86,6.47,5.93,5.26],
  [7.37,6.93,6.43,5.87,4.93],[7.17,6.77,6.26,5.73,5.17],[7.34,6.86,6.36,5.84,4.76],[7.16,6.77,6.27,5.77,5.23],[7.23,6.86,6.43,5.93,4.63],
  [7.33,6.93,6.53,6.03,5.26],[7.14,6.77,6.23,5.67,4.87],[7.27,6.83,6.36,5.86,5.03],[7.36,6.96,6.47,5.93,4.73],[7.17,6.73,6.27,5.73,5.26],
  [7.24,6.84,6.37,5.86,4.83],[7.33,6.93,6.43,5.94,5.17],[7.13,6.74,6.27,5.76,4.63],[7.26,6.87,6.36,5.83,5.07],[7.17,6.77,6.23,5.67,4.86],
  // days 321-365
  [7.16,6.76,6.27,5.73,5.14],[7.26,6.86,6.37,5.86,4.63],[7.13,6.73,6.23,5.66,5.04],[7.23,6.86,6.43,5.93,4.76],[7.06,6.66,6.16,5.63,5.23],
  [7.17,6.77,6.27,5.76,4.57],[7.26,6.87,6.43,5.93,5.16],[7.07,6.63,6.16,5.67,4.83],[7.23,6.83,6.37,5.84,5.24],[7.14,6.74,6.23,5.63,4.67],
  [7.24,6.87,6.36,5.83,5.14],[7.07,6.64,6.13,5.56,4.86],[7.14,6.77,6.26,5.73,5.03],[7.23,6.86,6.33,5.76,4.53],[7.06,6.63,6.16,5.64,5.26],
  [7.16,6.76,6.27,5.83,4.76],[7.24,6.86,6.37,5.77,5.14],[7.04,6.66,6.13,5.63,4.63],[7.13,6.73,6.23,5.73,5.07],[7.23,6.83,6.37,5.86,4.86],
  [7.06,6.66,6.16,5.63,5.23],[7.14,6.74,6.26,5.73,4.57],[7.03,6.67,6.17,5.67,5.16],[7.13,6.76,6.33,5.83,4.83],[7.04,6.63,6.16,5.57,5.24],
  [7.13,6.76,6.27,5.77,4.67],[7.03,6.63,6.13,5.63,5.03],[7.14,6.74,6.27,5.84,4.53],[7.17,6.83,6.36,5.76,5.13],[7.04,6.63,6.16,5.63,4.86],
  [7.13,6.76,6.27,5.74,5.24],[7.03,6.64,6.17,5.67,4.63],[7.16,6.77,6.26,5.76,5.03],[7.06,6.66,6.13,5.63,4.76],[7.13,6.73,6.23,5.73,5.17],
  [7.04,6.63,6.17,5.66,4.57],[7.16,6.77,6.27,5.76,5.07],[7.03,6.67,6.16,5.63,4.83],[7.14,6.74,6.26,5.74,5.23],[7.06,6.63,6.13,5.64,4.67],
  [7.13,6.76,6.27,5.77,5.03],[7.03,6.63,6.16,5.63,4.86],[7.16,6.77,6.23,5.73,5.14],[7.04,6.66,6.17,5.67,4.57],[7.13,6.73,6.26,5.76,5.06],
];

// Irradiação extraterrestre diária (kWh/m²), sampled every 3 days
const extraDays = [
  1,4,7,10,13,16,19,22,25,28,31,34,37,40,43,46,49,52,55,58,61,64,67,70,73,76,79,82,85,88,91,94,97,100,
  103,106,109,112,115,118,121,124,127,130,133,136,139,142,145,148,151,154,157,160,163,166,169,172,175,178,
  181,184,187,190,193,196,199,202,205,208,211,214,217,220,223,226,229,232,235,238,241,244,247,250,253,256,
  259,262,265,268,271,274,277,280,283,286,289,292,295,298,301,304,307,310,313,316,319,322,325,328,331,334,
  337,340,343,346,349,352,355,358,361,364,
];
const extraValues = [
  10.8,10.8,10.8,10.8,10.8,10.8,10.8,10.8,10.8,10.8,10.8,10.8,10.8,10.8,10.8,10.8,10.8,10.8,10.8,10.8,
  10.8,10.78,10.76,10.73,10.69,10.65,10.6,10.55,10.49,10.44,10.38,10.33,10.28,10.23,
  10.17,10.1,10.03,9.96,9.89,9.82,9.75,9.68,9.61,9.54,9.47,9.39,9.32,9.25,9.19,9.12,9.05,8.98,8.92,8.85,
  8.79,8.73,8.67,8.62,8.56,8.51,8.46,8.42,8.38,8.34,8.32,8.31,8.32,8.34,8.37,8.41,8.46,8.52,8.59,8.66,
  8.74,8.82,8.9,8.98,9.06,9.15,9.24,9.34,9.43,9.52,9.62,9.71,9.8,9.88,9.96,10.04,10.11,10.18,10.25,10.31,
  10.37,10.43,10.49,10.54,10.59,10.63,10.67,10.72,10.76,10.8,10.83,10.86,10.87,10.88,10.88,10.88,10.88,10.88,
  10.88,10.88,10.88,10.88,10.86,10.84,10.83,10.83,10.83,10.83,
];

const xTicks = [0, 50, 100, 150, 200, 250, 300, 350];
const xMinorTicks = [10,20,30,40,60,70,80,90,110,120,130,140,160,170,180,190,210,220,230,240,260,270,280,290,310,320,330,340,360];
const yTicks = [0, 2, 4, 6, 8, 10, 12];
const yMinorTicks = [1, 3, 5, 7, 9, 11];

const seriesLabels = ["Irradiação média diária", "Irradiação extraterrestre diária"];
const xTitle = "Dia Juliano";
const yTitle = "Irradiação solar diária (kWh/m²)";

const SERIF = "'Liberation Serif', 'Times New Roman', serif";
const GRAY = "#9e9fa4";

export default function App() {
  const ref = useRef<HTMLCanvasElement | null>(null);

  useEffect(() => {
    if (!ref.current) return;
    const toPts = (rows: number[][]) => rows.flatMap((vals, i) => vals.map((v) => ({ x: i + 1, y: v })));
    const grayPts = [...toPts(dailyMean), ...toPts(dailyMeanMore)];
    const blackPts = extraDays.map((d, i) => ({ x: d, y: extraValues[i] }));

    const ticksPlugin = {
      id: "minorTicks",
      afterDraw(chart: any) {
        const ctx = chart.ctx;
        const xs = chart.scales.x;
        const ys = chart.scales.y;
        const bottom = chart.chartArea.bottom;
        const left = chart.chartArea.left;
        ctx.save();
        ctx.strokeStyle = "#000";
        ctx.lineWidth = 1.5;
        ctx.beginPath();
        for (const v of xTicks) {
          const p = Math.round(xs.getPixelForValue(v)) + 0.5;
          ctx.moveTo(p, bottom); ctx.lineTo(p, bottom + 12);
        }
        for (const v of xMinorTicks) {
          const p = Math.round(xs.getPixelForValue(v)) + 0.5;
          ctx.moveTo(p, bottom); ctx.lineTo(p, bottom + 7);
        }
        for (const v of yTicks) {
          const p = Math.round(ys.getPixelForValue(v)) + 0.5;
          ctx.moveTo(left, p); ctx.lineTo(left - 12, p);
        }
        for (const v of yMinorTicks) {
          const p = Math.round(ys.getPixelForValue(v)) + 0.5;
          ctx.moveTo(left, p); ctx.lineTo(left - 7, p);
        }
        ctx.stroke();

        // legend
        ctx.fillStyle = GRAY;
        ctx.beginPath(); ctx.arc(140, 384, 1.6, 0, Math.PI * 2); ctx.fill();
        ctx.fillStyle = "#000";
        ctx.beginPath(); ctx.arc(140, 410, 4.6, 0, Math.PI * 2); ctx.fill();
        ctx.font = `19px ${SERIF}`;
        ctx.textBaseline = "alphabetic";
        ctx.textAlign = "left";
        ctx.fillText(seriesLabels[0], 176, 391.5);
        ctx.fillText(seriesLabels[1], 176, 417);
        ctx.restore();
      },
    };

    const chart = new Chart(ref.current, {
      type: "scatter",
      data: {
        datasets: [
          { label: seriesLabels[0], data: grayPts, backgroundColor: GRAY, borderWidth: 0, pointRadius: 2.1, pointHoverRadius: 2.1 },
          {
            label: seriesLabels[1], data: blackPts, backgroundColor: "#000", borderColor: "#000",
            borderWidth: 8.5, showLine: true, pointRadius: 4.2, pointHoverRadius: 4.2, pointBorderWidth: 0,
          },
        ],
      },
      options: {
        animation: false,
        responsive: false,
        devicePixelRatio: 1,
        layout: { padding: { top: 21, right: 3.5, left: 0, bottom: 0 } },
        plugins: { legend: { display: false }, tooltip: { enabled: false } },
        scales: {
          x: {
            type: "linear",
            min: 0,
            max: 365,
            afterBuildTicks: (s: any) => { s.ticks = xTicks.map((v) => ({ value: v })); },
            afterFit: (s: any) => { s.height = 66; },
            ticks: { font: { family: SERIF, size: 22 }, color: "#000", padding: 6, maxRotation: 0, autoSkip: false },
            grid: { display: false, drawTicks: true, tickLength: 12 },
            border: { display: true, color: "#000", width: 1.5 },
            title: { display: true, text: xTitle, color: "#000", font: { family: SERIF, size: 26 }, padding: { top: 0, bottom: 0 } },
          },
          y: {
            type: "linear",
            min: 0,
            max: 12,
            afterBuildTicks: (s: any) => { s.ticks = yTicks.map((v) => ({ value: v })); },
            afterFit: (s: any) => { s.width = 86; },
            ticks: { font: { family: SERIF, size: 22 }, color: "#000", padding: 8, autoSkip: false },
            grid: { display: false, drawTicks: true, tickLength: 12 },
            border: { display: true, color: "#000", width: 1.5 },
            title: { display: true, text: yTitle, color: "#000", font: { family: SERIF, size: 27 }, padding: { top: 8, bottom: 0 } },
          },
        },
      },
      plugins: [ticksPlugin],
    });
    return () => chart.destroy();
  }, []);

  return (
    <div style={{ position: "fixed", left: 0, top: 0, width: 653, height: 495, overflow: "hidden", background: "#fff" }}>
      <canvas ref={ref} width={660} height={495} style={{ display: "block" }} />
    </div>
  );
}
